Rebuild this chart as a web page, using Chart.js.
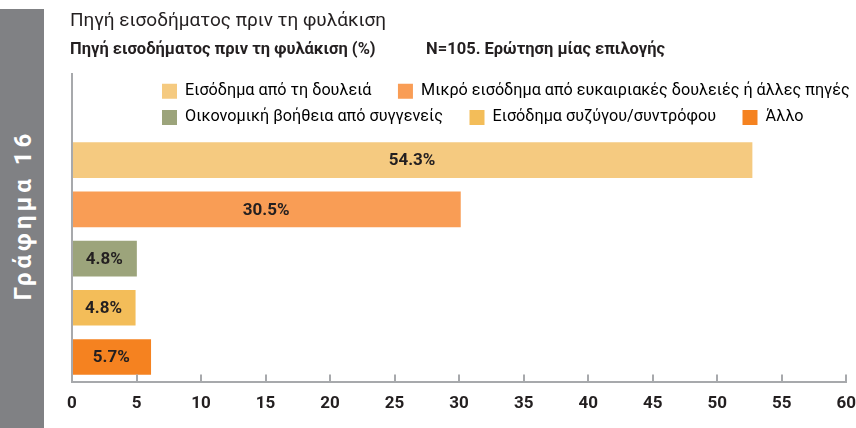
<!DOCTYPE html>
<html lang="el">
<head>
<meta charset="utf-8">
<script src="https://cdn.jsdelivr.net/npm/chart.js@4.4.0/dist/chart.umd.min.js"></script>
<style>
  html, body { margin: 0; padding: 0; background: #fff; }
  #wrap { position: relative; width: 856px; height: 428px; overflow: hidden; }
  #chart { position: absolute; left: 0; top: 0; }
  #side { position: absolute; left: 0; top: 9px; width: 44px; height: 419px; background: #808184; }
  #side span {
    position: absolute; left: 23px; top: 206px;
    transform: translate(-50%, -50%) rotate(-90deg);
    white-space: nowrap; color: #fff; letter-spacing: 4px;
    font: bold 24px Roboto, 'DejaVu Sans Condensed', sans-serif;
  }
</style>
</head>
<body>
<div id="wrap">
  <canvas id="chart" width="856" height="428"></canvas>
  <div id="side"><span>Γράφημα 16</span></div>
</div>
<script>
const FONT = "Roboto, 'DejaVu Sans Condensed', sans-serif";
const INK = '#231f20';
const AXIS = '#a7a9ac';

// Texts
const titleText = 'Πηγή εισοδήματος πριν τη φυλάκιση';
const subtitleText = 'Πηγή εισοδήματος πριν τη φυλάκιση (%)\u2003\u2003\u2003N=105. Ερώτηση μίας επιλογής';

// Data
const categories = [
  'Εισόδημα από τη δουλειά',
  'Μικρό εισόδημα από ευκαιριακές δουλειές ή άλλες πηγές',
  'Οικονομική βοήθεια από συγγενείς',
  'Εισόδημα συζύγου/συντρόφου',
  'Άλλο'
];
const barValues = [52.7, 30.1, 5.0, 4.9, 6.1];        // bar lengths as drawn
const barLabels = ['54.3%', '30.5%', '4.8%', '4.8%', '5.7%'];
const barColors = ['#f5ca80', '#f99d55', '#9ca47b', '#f3bd59', '#f58220'];
const xTickValues = [0, 5, 10, 15, 20, 25, 30, 35, 40, 45, 50, 55, 60];

// value text in the middle of each bar
const barValueLabels = {
  id: 'barValueLabels',
  afterDatasetsDraw(chart) {
    const ctx = chart.ctx;
    const meta = chart.getDatasetMeta(0);
    ctx.save();
    ctx.font = 'bold 17px ' + FONT;
    ctx.fillStyle = INK;
    ctx.textAlign = 'center';
    ctx.textBaseline = 'middle';
    meta.data.forEach((bar, i) => {
      const p = bar.getProps(['x', 'y', 'base'], true);
      ctx.fillText(barLabels[i], (p.x + p.base) / 2, p.y + 1);
    });
    ctx.restore();
  }
};

// left axis line runs up behind the legend, x tick marks point up into the plot
const axisExtras = {
  id: 'axisExtras',
  afterDraw(chart) {
    const { ctx, chartArea } = chart;
    const x = chart.scales.x;
    ctx.save();
    ctx.strokeStyle = AXIS;
    ctx.lineWidth = 2;
    ctx.beginPath();
    ctx.moveTo(chartArea.left, chart.legend.top);
    ctx.lineTo(chartArea.left, chartArea.bottom);
    x.ticks.forEach(t => {
      const px = Math.round(x.getPixelForValue(t.value));
      ctx.moveTo(px, chartArea.bottom);
      ctx.lineTo(px, chartArea.bottom - 7);
    });
    ctx.stroke();
    ctx.restore();
  }
};

// legend starts further right than the plot's left edge
const legendShift = {
  id: 'legendShift',
  afterLayout(chart) {
    const lg = chart.legend;
    const dx = chart.chartArea.left + 90 - (lg.left + lg.options.labels.padding);
    lg.left += dx;
    lg.right += dx;
  }
};

new Chart(document.getElementById('chart'), {
  type: 'bar',
  data: {
    labels: categories,
    datasets: [{
      data: barValues,
      backgroundColor: barColors,
      borderWidth: 0,
      barThickness: 35
    }]
  },
  options: {
    indexAxis: 'y',
    responsive: false,
    animation: false,
    layout: { padding: { left: 70, right: 0, top: 9.5, bottom: 14 } },
    plugins: {
      title: {
        display: true, text: titleText, align: 'start', color: INK,
        font: { family: FONT, size: 19, weight: 'normal' },
        padding: { top: 0, bottom: 0 }
      },
      subtitle: {
        display: true, text: subtitleText, align: 'start', color: INK,
        font: { family: FONT, size: 16.5, weight: 'bold' },
        padding: { top: 8, bottom: 13 }
      },
      legend: {
        position: 'top',
        align: 'start',
        onClick: null,
        labels: {
          boxWidth: 15, boxHeight: 15, padding: 10, color: INK,
          font: { family: FONT, size: 16.2 },
          generateLabels: () => categories.map((name, i) => ({
            text: name + '\u2003',
            fillStyle: barColors[i],
            strokeStyle: barColors[i],
            lineWidth: 0,
            hidden: false,
            index: i
          }))
        }
      },
      tooltip: { enabled: false }
    },
    scales: {
      x: {
        min: 0, max: 60,
        afterBuildTicks: s => { s.ticks = xTickValues.map(v => ({ value: v })); },
        grid: { display: false, drawTicks: true, tickLength: 12 },
        border: { display: true, color: AXIS, width: 2 },
        ticks: { color: INK, padding: 0, font: { family: FONT, size: 17, weight: 'bold' } }
      },
      y: {
        afterFit: s => { s.width = 2; },
        grid: { display: false, drawTicks: false },
        border: { display: true, color: AXIS, width: 2 },
        ticks: { display: false }
      }
    }
  },
  plugins: [barValueLabels, axisExtras, legendShift]
});
</script>
</body>
</html>
